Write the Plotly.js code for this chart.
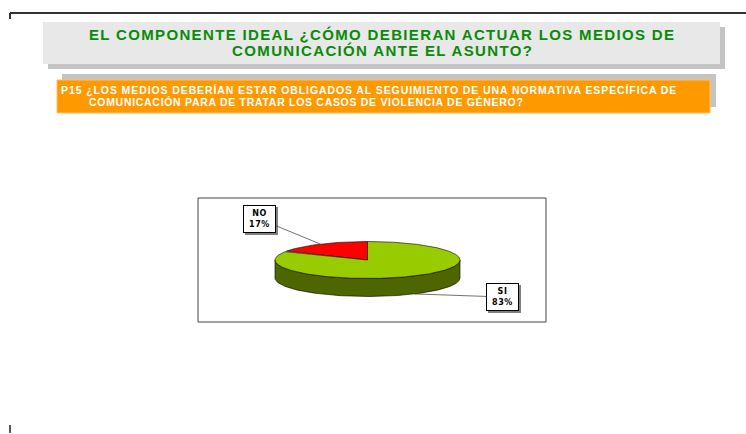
<!DOCTYPE html>
<html><head><meta charset="utf-8">
<script src="https://cdn.plot.ly/plotly-3.0.1.min.js"></script>
<style>html,body{margin:0;padding:0;background:#fff}#chart{width:746px;height:434px}</style>
</head><body><div id="chart"></div>
<script>
const titleLines = ["EL COMPONENTE IDEAL ¿CÓMO DEBIERAN ACTUAR LOS MEDIOS DE", "COMUNICACIÓN ANTE EL ASUNTO?"];
const questionLines = ["P15 ¿LOS MEDIOS DEBERÍAN ESTAR OBLIGADOS AL SEGUIMIENTO DE UNA NORMATIVA ESPECÍFICA DE", "COMUNICACIÓN PARA DE TRATAR LOS CASOS DE VIOLENCIA DE GÉNERO?"];
const sliceLabels = ["NO", "SI"];
const sliceValues = [17, 83];
const topColors = ["#FF0000", "#99CC00"];
const sideColors = ["#990000", "#4D6600"];

const FONT = "'Liberation Sans',Arial,sans-serif";
const cx = 367.5, cy = 260, rx = 92.5, ry = 18.5, depth = 18;
function pt(tDeg, dy) {
  const t = tDeg * Math.PI / 180;
  return [cx + rx * Math.cos(t), cy - ry * Math.sin(t) + (dy || 0)];
}
const total = sliceValues.reduce((a, b) => a + b, 0);
let start = 90;
const slices = sliceValues.map((v, i) => {
  const a0 = start, a1 = start + v / total * 360;
  start = a1;
  return {a0, a1, i};
});

const sideTraces = [], topTraces = [];
slices.forEach(s => {
  [[180, 360], [540, 720]].forEach(([lo, hi]) => {
    const a = Math.max(lo, s.a0), b = Math.min(hi, s.a1);
    if (b > a) {
      const n = Math.max(1, Math.ceil(b - a));
      const xs = [], ys = [];
      for (let k = 0; k <= n; k++) { const p = pt(a + (b - a) * k / n); xs.push(p[0]); ys.push(p[1]); }
      for (let k = n; k >= 0; k--) { const p = pt(a + (b - a) * k / n, depth); xs.push(p[0]); ys.push(p[1]); }
      xs.push(xs[0]); ys.push(ys[0]);
      sideTraces.push({type: 'scatter', mode: 'lines', x: xs, y: ys, fill: 'toself',
        fillcolor: sideColors[s.i], line: {color: '#000', width: 0.6}, hoverinfo: 'skip', showlegend: false});
    }
  });
  const xs = [cx], ys = [cy];
  const n = Math.ceil(s.a1 - s.a0);
  for (let k = 0; k <= n; k++) { const p = pt(s.a0 + (s.a1 - s.a0) * k / n); xs.push(p[0]); ys.push(p[1]); }
  xs.push(cx); ys.push(cy);
  topTraces.push({type: 'scatter', mode: 'lines', x: xs, y: ys, fill: 'toself',
    fillcolor: topColors[s.i], line: {color: '#000', width: 0.6}, hoverinfo: 'skip', showlegend: false});
});

const labelPos = [[259.5, 219], [502.5, 297]];
const annotations = [];
const spacing = [];
const shapes = [
  {type: 'line', x0: 10, x1: 746, y0: 13, y1: 13, line: {color: '#333', width: 2}},
  {type: 'line', x0: 10, x1: 10, y0: 13, y1: 19, line: {color: '#333', width: 2}},
  {type: 'line', x0: 10, x1: 10, y0: 425, y1: 433, line: {color: '#555', width: 2}},
  {type: 'rect', x0: 48, x1: 725, y0: 27, y1: 69, fillcolor: '#C4C4C4', line: {width: 0}, layer: 'below'},
  {type: 'rect', x0: 43, x1: 720, y0: 22, y1: 64, fillcolor: '#E8E8E8', line: {width: 0}, layer: 'below'},
  {type: 'rect', x0: 62, x1: 716, y0: 74, y1: 107, fillcolor: '#C4C4C4', line: {width: 0}, layer: 'below'},
  {type: 'rect', x0: 57, x1: 710, y0: 80, y1: 113, fillcolor: '#FF9900', line: {color: '#FFC060', width: 1}, layer: 'below'},
  {type: 'rect', x0: 198, x1: 546, y0: 198, y1: 322, fillcolor: 'rgba(0,0,0,0)', line: {color: '#444', width: 1}}
];
slices.forEach(s => {
  const mid = (s.a0 + s.a1) / 2;
  const front = Math.sin(mid * Math.PI / 180) < 0;
  const p = pt(mid, front ? depth : 0);
  const [lx, ly] = labelPos[s.i];
  shapes.push({type: 'rect', x0: lx - 16.5 + 2, x1: lx + 16.5 + 2, y0: ly - 14 + 2, y1: ly + 14 + 2,
    fillcolor: '#808080', line: {width: 0}});
  annotations.push({x: p[0], y: p[1], xref: 'x', yref: 'y', ax: lx, ay: ly, axref: 'x', ayref: 'y',
    showarrow: true, arrowhead: 0, arrowwidth: 0.7, arrowcolor: '#333', standoff: 0,
    text: '<b>' + sliceLabels[s.i] + '<br>' + sliceValues[s.i] + '%</b>',
    font: {family: "'DejaVu Sans',Verdana,sans-serif", size: 8, color: '#000'},
    bgcolor: '#fff', bordercolor: '#000', borderwidth: 1, borderpad: 1, width: 29, height: 24, align: 'center'});
  spacing.push(0.6);
});
annotations.push({x: 382, y: 34.5, xref: 'x', yref: 'y', showarrow: false, text: '<b>' + titleLines[0] + '</b>',
  font: {family: FONT, size: 15, color: '#0A8A0A'}});
spacing.push(1.35);
annotations.push({x: 382, y: 50.5, xref: 'x', yref: 'y', showarrow: false, text: '<b>' + titleLines[1] + '</b>',
  font: {family: FONT, size: 15, color: '#0A8A0A'}});
spacing.push(1.35);
annotations.push({x: 59, y: 90, xref: 'x', yref: 'y', xanchor: 'left', showarrow: false, text: '<b>' + questionLines[0] + '</b>',
  font: {family: FONT, size: 10.5, color: '#fff'}});
spacing.push(0.9);
annotations.push({x: 87, y: 102, xref: 'x', yref: 'y', xanchor: 'left', showarrow: false, text: '<b>' + questionLines[1] + '</b>',
  font: {family: FONT, size: 10.5, color: '#fff'}});
spacing.push(0.7);

const layout = {
  width: 746, height: 434, margin: {l: 0, r: 0, t: 0, b: 0},
  paper_bgcolor: '#fff', plot_bgcolor: '#fff', showlegend: false,
  xaxis: {range: [0, 746], visible: false, fixedrange: true},
  yaxis: {range: [434, 0], visible: false, fixedrange: true},
  shapes, annotations
};
Plotly.newPlot('chart', sideTraces.concat(topTraces), layout, {staticPlot: true, displayModeBar: false}).then(gd => {
  gd.querySelectorAll('g.annotation').forEach(g => {
    const i = +g.getAttribute('data-index');
    const t = g.querySelector('text.annotation-text');
    if (t && spacing[i] != null) {
      const before = t.getBBox().x;
      t.style.letterSpacing = spacing[i] + 'px';
      if (annotations[i].xanchor === 'left') {
        const after = t.getBBox().x;
        const dx = before - after;
        const prev = t.getAttribute('transform') || '';
        t.setAttribute('transform', prev + ' translate(' + dx + ',0)');
      }
    }
  });
});
</script></body></html>
